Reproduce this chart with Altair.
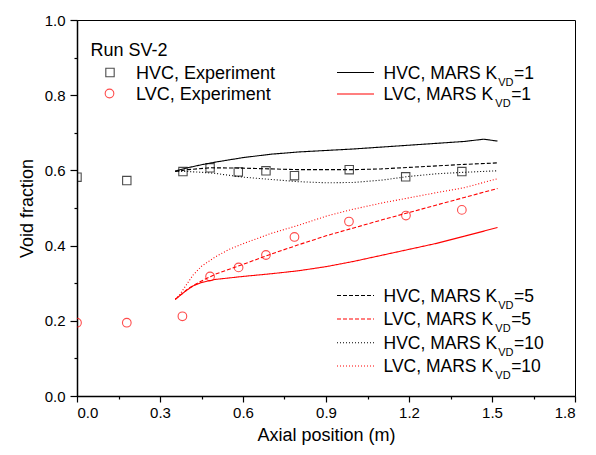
import altair as alt
import pandas as pd

# ---------------- data ----------------
hvc_exp_x = [0.0, 0.18, 0.383, 0.481, 0.583, 0.683, 0.786, 0.984, 1.188, 1.391]
hvc_exp_y = [0.582, 0.573, 0.597, 0.607, 0.596, 0.599, 0.586, 0.602, 0.583, 0.597]
lvc_exp_x = [0.0, 0.18, 0.381, 0.481, 0.584, 0.683, 0.786, 0.983, 1.189, 1.391]
lvc_exp_y = [0.195, 0.195, 0.212, 0.318, 0.342, 0.375, 0.423, 0.464, 0.480, 0.495]

hvc_k1_x = [0.355, 0.40, 0.45, 0.50, 0.60, 0.70, 0.80, 0.90, 1.00, 1.10, 1.20, 1.30, 1.40, 1.47, 1.52]
hvc_k1_y = [0.598, 0.607, 0.615, 0.622, 0.634, 0.643, 0.649, 0.653, 0.657, 0.662, 0.667, 0.672, 0.677, 0.683, 0.678]
hvc_k5_x = [0.355, 0.40, 0.48, 0.60, 0.70, 0.80, 0.90, 1.00, 1.10, 1.20, 1.30, 1.40, 1.52]
hvc_k5_y = [0.597, 0.602, 0.607, 0.606, 0.604, 0.602, 0.602, 0.602, 0.604, 0.608, 0.612, 0.616, 0.620]
hvc_k10_x = [0.355, 0.40, 0.45, 0.50, 0.60, 0.70, 0.80, 0.90, 1.00, 1.10, 1.20, 1.30, 1.40, 1.52]
hvc_k10_y = [0.598, 0.597, 0.595, 0.592, 0.582, 0.576, 0.570, 0.567, 0.568, 0.574, 0.584, 0.591, 0.595, 0.599]

lvc_k1_x = [0.355, 0.38, 0.40, 0.42, 0.45, 0.50, 0.60, 0.70, 0.80, 0.90, 1.00, 1.10, 1.20, 1.30, 1.40, 1.52]
lvc_k1_y = [0.257, 0.272, 0.283, 0.293, 0.302, 0.310, 0.318, 0.325, 0.333, 0.344, 0.358, 0.374, 0.390, 0.406, 0.425, 0.448]
lvc_k5_x = [0.355, 0.38, 0.40, 0.45, 0.50, 0.60, 0.70, 0.80, 0.90, 1.00, 1.10, 1.20, 1.30, 1.40, 1.52]
lvc_k5_y = [0.257, 0.272, 0.285, 0.306, 0.324, 0.350, 0.377, 0.402, 0.426, 0.447, 0.468, 0.488, 0.508, 0.528, 0.552]
lvc_k10_x = [0.355, 0.37, 0.39, 0.42, 0.45, 0.50, 0.55, 0.60, 0.70, 0.80, 0.90, 1.00, 1.10, 1.20, 1.30, 1.40, 1.52]
lvc_k10_y = [0.257, 0.268, 0.290, 0.322, 0.345, 0.370, 0.390, 0.405, 0.432, 0.454, 0.478, 0.497, 0.513, 0.527, 0.541, 0.554, 0.578]

x_tick_values = [0.0, 0.15, 0.3, 0.45, 0.6, 0.75, 0.9, 1.05, 1.2, 1.35, 1.5, 1.65, 1.8]
y_tick_values = [0.0, 0.1, 0.2, 0.3, 0.4, 0.5, 0.6, 0.7, 0.8, 0.9, 1.0]

series_names = ["HVC K1", "HVC K5", "HVC K10", "LVC K1", "LVC K5", "LVC K10"]
series_x = [hvc_k1_x, hvc_k5_x, hvc_k10_x, lvc_k1_x, lvc_k5_x, lvc_k10_x]
series_y = [hvc_k1_y, hvc_k5_y, hvc_k10_y, lvc_k1_y, lvc_k5_y, lvc_k10_y]

RED = "#ff0000"
series_colors = ["black", "black", "black", RED, RED, RED]
series_dashes = [[1, 0], [4, 2], [1, 2], [1, 0], [4, 2], [1, 2]]

# ---------------- tables ----------------
rows = []
for name, xs, ys in zip(series_names, series_x, series_y):
    for xv, yv in zip(xs, ys):
        rows.append({"series": name, "x": xv, "y": yv})
lines_df = pd.DataFrame(rows)
hvc_df = pd.DataFrame({"x": hvc_exp_x, "y": hvc_exp_y})
lvc_df = pd.DataFrame({"x": lvc_exp_x, "y": lvc_exp_y})

FONT = "Liberation Sans"

X = alt.X("x:Q", scale=alt.Scale(domain=[0, 1.8], nice=False, zero=False),
          axis=alt.Axis(values=x_tick_values, title="Axial position (m)",
                        labelExpr="round(datum.value*100) % 30 == 0 ? format(datum.value, '.1f') : ''",
                        tickSize={"condition": {"test": "round(datum.value*100) % 30 == 0", "value": 6}, "value": 3},
                        labelPadding=3, titlePadding=6, orient="bottom"))
Y = alt.Y("y:Q", scale=alt.Scale(domain=[0, 1.0], nice=False, zero=False),
          axis=alt.Axis(values=y_tick_values, title="Void fraction",
                        labelExpr="round(datum.value*10) % 2 == 0 ? format(datum.value, '.1f') : ''",
                        tickSize={"condition": {"test": "round(datum.value*10) % 2 == 0", "value": 7}, "value": 3},
                        labelPadding=5, titlePadding=8, orient="left"))

lines = alt.Chart(lines_df).mark_line(strokeWidth=1.1).encode(
    x=X, y=Y,
    color=alt.Color("series:N", scale=alt.Scale(domain=series_names, range=series_colors), legend=None),
    strokeDash=alt.StrokeDash("series:N", scale=alt.Scale(domain=series_names, range=series_dashes), legend=None),
)
hvc_pts = alt.Chart(hvc_df).mark_point(shape="square", filled=False, size=70, color="black",
                                       strokeWidth=1.1, clip=True).encode(x=X, y=Y)
lvc_pts = alt.Chart(lvc_df).mark_point(shape="circle", filled=False, size=75, color=RED,
                                       strokeWidth=1.1, clip=True).encode(x=X, y=Y)

# ---------------- legend (drawn by hand for the subscripts) ----------------
ARIAL_W = {'H': 722, 'V': 667, 'C': 722, 'L': 556, ',': 278, ' ': 278, 'M': 833, 'A': 667,
           'R': 722, 'S': 667, 'K': 667, 'D': 722, '=': 584, '0': 556, '1': 556, '5': 556}


def text_width(s, size):
    return sum(ARIAL_W[c] for c in s) / 1000.0 * size


dummy = pd.DataFrame({"a": [0]})
MAIN_SIZE = 17.5
SUB_SIZE = 11


def txt(s, x, y, size=MAIN_SIZE, color="black"):
    return alt.Chart(dummy).mark_text(text=s, align="left", baseline="alphabetic", font=FONT,
                                      fontSize=size, color=color).encode(x=alt.value(x), y=alt.value(y))


def sample_line(y, color, dash, x0=260, x1=297):
    return alt.Chart(dummy).mark_rule(color=color, strokeDash=dash, strokeWidth=1.1).encode(
        x=alt.value(x0), x2=alt.value(x1), y=alt.value(y))


def mars_entry(prefix, k, y, color, dash):
    tx = 306.5
    base = y + 6
    sx = tx + text_width(prefix, MAIN_SIZE) + 1
    ex = sx + text_width("VD", SUB_SIZE) + 0.5
    return [sample_line(y, color, dash),
            txt(prefix, tx, base),
            txt("VD", sx, base + 7, SUB_SIZE),
            txt("=" + k, ex, base)]


legend_layers = [
    txt("Run SV-2", 13.5, 36, 18),
    alt.Chart(dummy).mark_point(shape="square", filled=False, size=70, color="black", strokeWidth=1.1).encode(
        x=alt.value(33), y=alt.value(52.5)),
    txt("HVC, Experiment", 59, 58.5, 18),
    alt.Chart(dummy).mark_point(shape="circle", filled=False, size=75, color=RED, strokeWidth=1.1).encode(
        x=alt.value(32.5), y=alt.value(73.5)),
    txt("LVC, Experiment", 59, 79.5, 18),
]
legend_layers += mars_entry("HVC, MARS K", "1", 52.5, "black", [1, 0])
legend_layers += mars_entry("LVC, MARS K", "1", 74, RED, [1, 0])
legend_layers += mars_entry("HVC, MARS K", "5", 275.5, "black", [4, 2])
legend_layers += mars_entry("LVC, MARS K", "5", 299, RED, [4, 2])
legend_layers += mars_entry("HVC, MARS K", "10", 322.7, "black", [1, 2])
legend_layers += mars_entry("LVC, MARS K", "10", 346, RED, [1, 2])

chart = alt.layer(lines, hvc_pts, lvc_pts, *legend_layers).properties(
    width=498, height=376,
    autosize=alt.AutoSizeParams(type="none"),
    padding={"left": 69, "top": 12, "right": 13, "bottom": 54},
).configure(font=FONT).configure_view(
    stroke="black", strokeWidth=1
).configure_axis(
    grid=False, domainColor="black", domainWidth=1.5, tickColor="black", tickWidth=1.2,
    labelColor="black", labelFont=FONT, labelFontSize=15, titleFont=FONT, titleFontSize=18,
    titleFontWeight="normal", titleColor="black"
)

chart.save("out.html", embed_options={"renderer": "svg", "actions": False})
